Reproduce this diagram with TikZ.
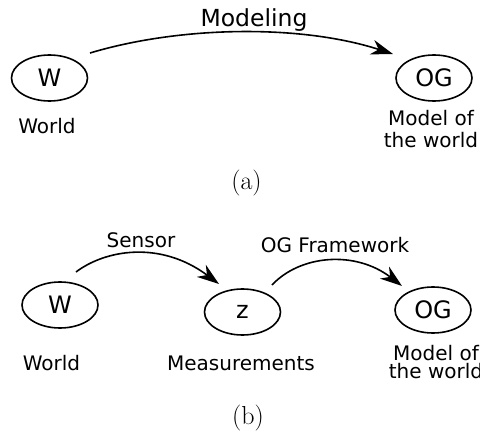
\documentclass[tikz,border=0pt]{standalone}
\usepackage{fontspec}
\newfontfamily\labelfont{DejaVu Sans}
\usetikzlibrary{arrows.meta,shapes.geometric}
\begin{document}
\begin{tikzpicture}[x=1pt,y=-1pt,
  state/.style={draw, ellipse, line width=1.6pt, minimum width=76pt,
    minimum height=46pt, inner sep=0pt,
    font=\labelfont\fontsize{24}{28}\selectfont},
  lbl/.style={font=\labelfont\fontsize{20}{22}\selectfont, inner sep=0pt,
    anchor=base, align=center},
  biglbl/.style={lbl, font=\labelfont\fontsize{23.5}{26}\selectfont},
  subcap/.style={font=\fontsize{26}{30}\selectfont, inner sep=0pt, anchor=base},
  flow/.style={line width=1.6pt, -{Stealth[length=22pt,width=15pt,inset=7pt]}}
]
\useasboundingbox (0,0) rectangle (480,434);
\clip (0,0) rectangle (480,434);

% (a) world -> model
\node[state] (w1) at (49.5,78) {W};
\node[state] (og1) at (434,78) {OG};
\node[lbl] (w1lbl) at (47,133) {World};
\node[lbl] (og1lbl) at (431,147) {Model of\\the world};
\node[biglbl] (modlbl) at (254,26) {Modeling};
\draw[flow] ([shift={(40.5,-25)}]w1.center)
  .. controls +(90,-27) and +(-93,-30) .. ([shift={(-41,-24)}]og1.center);
\node[subcap] (capa) at (246.5,189) {(a)};

% (b) world -> measurements -> model
\node[state] (w2) at (60,305) {W};
\node[state] (z) at (242.5,312) {z};
\node[state] (og2) at (433,310) {OG};
\node[lbl] (w2lbl) at (51.5,370) {World};
\node[lbl] (zlbl) at (241,370) {Measurements};
\node[lbl, font=\labelfont\fontsize{20}{18}\selectfont] (og2lbl) at (436,378) {Model of\\the world};
\node[lbl] (senslbl) at (141,247) {Sensor};
\node[lbl] (fwlbl) at (335,252) {OG Framework};
\draw[flow] ([shift={(16,-33)}]w2.center)
  .. controls +(29,-22) and +(-59,-44) .. ([shift={(-23.5,-28)}]z.center);
\draw[flow] ([shift={(29.5,-27)}]z.center)
  .. controls +(28,-30) and +(-47,-36) .. ([shift={(-31,-24)}]og2.center);
\node[subcap] (capb) at (248,424) {(b)};
\end{tikzpicture}
\end{document}
